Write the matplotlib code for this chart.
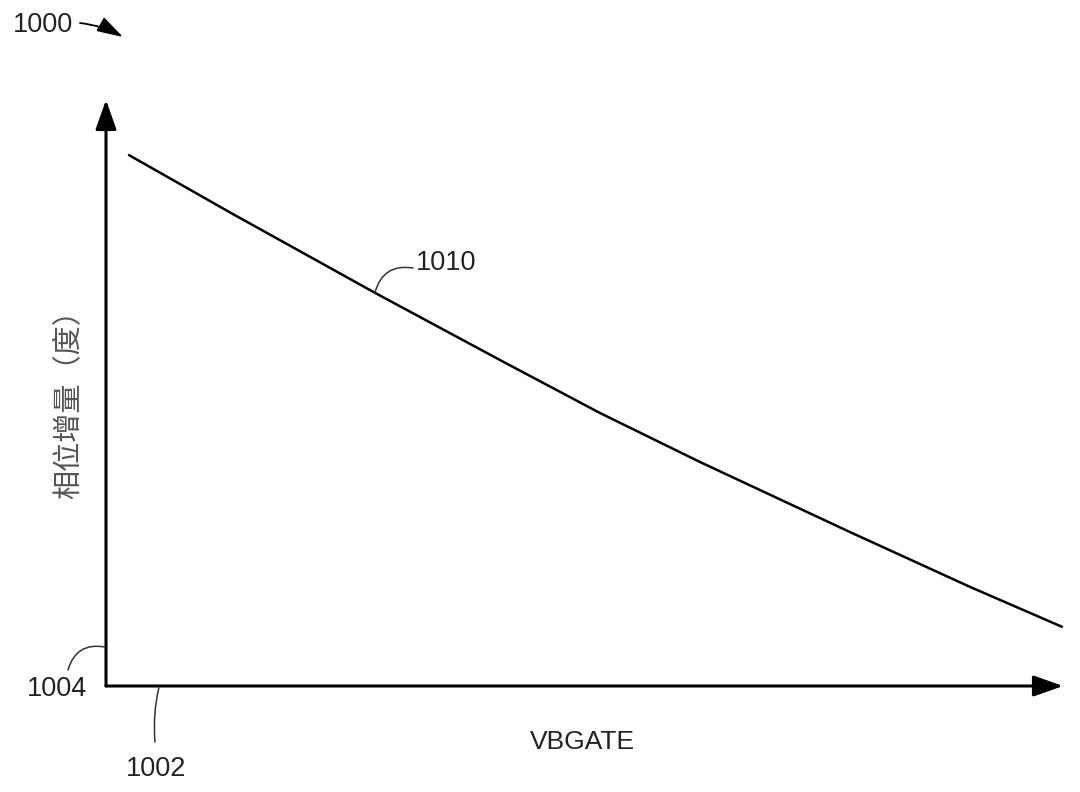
import matplotlib
matplotlib.use("Agg")
import matplotlib.pyplot as plt

plt.rcParams['font.family'] = ['Liberation Sans', 'DejaVu Sans']

# curve 1010 : phase increment vs VBGATE (arbitrary units)
vbgate = [0.24, 1.33, 2.81, 4.12, 5.16, 6.21, 7.77, 9.03, 9.99]
phase = [90.6, 80.5, 67.1, 55.6, 46.6, 38.2, 26.3, 16.9, 10.1]

W, H = 1080, 792


def fp(x, y):
    # pixel position -> figure fraction
    return (x / W, 1 - y / H)


fig = plt.figure(figsize=(10.8, 7.92), dpi=100)
ax = fig.add_axes([106 / W, 1 - 686 / H, 957 / W, 586 / H])
ax.set_xlim(0, 10)
ax.set_ylim(0, 100)
for s in ax.spines.values():
    s.set_visible(False)
ax.set_xticks([])
ax.set_yticks([])

# axes with arrow heads
arrow = dict(arrowstyle='-|>,head_length=0.9,head_width=0.32', color='black',
             lw=2.2, mutation_scale=20, shrinkA=0, shrinkB=0)
ax.annotate('', xy=(0, 1), xytext=(0, 0), xycoords='axes fraction',
            textcoords='axes fraction', arrowprops=arrow, annotation_clip=False)
ax.annotate('', xy=(1, 0), xytext=(0, 0), xycoords='axes fraction',
            textcoords='axes fraction', arrowprops=arrow, annotation_clip=False)

ax.plot(vbgate, phase, color='black', lw=1.8, solid_capstyle='round')

# axis titles
fig.text(*fp(582, 742), 'VBGATE', fontsize=19, ha='center', va='center',
         color='#222222')
fig.text(*fp(68, 397), '相位增量（度）', fontsize=21, rotation=90,
         ha='center', va='center', color='#555555',
         family=['Noto Sans CJK SC', 'DejaVu Sans'])

# reference numerals with leaders
lead = dict(arrowstyle='-', color='#333333', lw=1.1, shrinkA=0, shrinkB=0)
num = dict(fontsize=19.5, ha='center', va='center', color='#222222')

fig.text(*fp(43, 25), '1000', **num)
ax.annotate('', xy=fp(123, 37), xytext=fp(80, 23), xycoords='figure fraction',
            textcoords='figure fraction', annotation_clip=False,
            arrowprops=dict(arrowstyle='-|>,head_length=1.0,head_width=0.3',
                            color='black', lw=1.3, mutation_scale=16,
                            shrinkA=0, shrinkB=0,
                            connectionstyle='arc3,rad=-0.1'))

fig.text(*fp(446, 263), '1010', **num)
ax.annotate('', xy=(vbgate[2], phase[2]), xytext=fp(413, 268),
            xycoords='data', textcoords='figure fraction',
            annotation_clip=False,
            arrowprops=dict(lead, connectionstyle='arc3,rad=0.45'))

fig.text(*fp(57, 689), '1004', **num)
ax.annotate('', xy=fp(105, 647), xytext=fp(68, 670),
            xycoords='figure fraction', textcoords='figure fraction',
            annotation_clip=False,
            arrowprops=dict(lead, connectionstyle='arc3,rad=-0.45'))

fig.text(*fp(156, 769), '1002', **num)
ax.annotate('', xy=fp(159, 687), xytext=fp(155, 742),
            xycoords='figure fraction', textcoords='figure fraction',
            annotation_clip=False,
            arrowprops=dict(lead, connectionstyle='arc3,rad=-0.08'))

fig.savefig('out.png', dpi=100, facecolor='white')
